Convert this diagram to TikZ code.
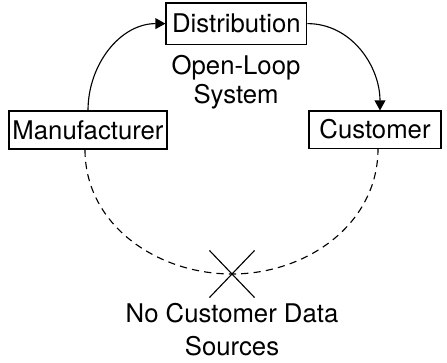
\documentclass[tikz,border=0pt]{standalone}
\usepackage{fontspec}
\setmainfont{TeX Gyre Heros}
\usepackage{tikz}
\usetikzlibrary{shapes, shapes.misc, arrows.meta, positioning, calc}

\begin{document}
\begin{tikzpicture}[
  sbox/.style={draw, line width=0.8pt, inner sep=0pt, minimum height=0.95cm, font=\fontsize{18.3}{19.2}\selectfont},
  flow/.style={line width=0.8pt, -{Triangle[length=0.25cm, width=0.27cm]}},
  gap/.style={line width=0.8pt, dash pattern=on 0.18cm off 0.13cm},
  lbl/.style={align=center, inner sep=0pt, font=\fontsize{18.3}{20.5}\selectfont}
]
  \useasboundingbox (0,0) rectangle (11.175, 9.05);
  \node[sbox, minimum width=3.52cm, minimum height=1.03cm] (dist) at (5.91, 8.46) {Distribution};
  \node[sbox, minimum width=3.95cm] (manu) at (2.2, 5.8) {Manufacturer};
  \node[sbox, minimum width=3.3cm, minimum height=0.93cm] (cust) at (9.375, 5.81) {Customer};
  \node[lbl] (open) at (5.9, 7.0) {Open-Loop\\System};
  \node[cross out, draw, line width=0.8pt, inner sep=0pt, minimum width=1.1cm, minimum height=1.15cm] (nx) at (5.8, 2.2) {};
  \node[lbl] (nodata) at (5.8, 0.81) {No Customer Data\\[2.3pt]Sources};
  % product flow
  \draw[flow] (manu.north) to[out=90, in=180] (dist.west);
  \draw[flow] (dist.east) to[out=0, in=90] ([xshift=0.125cm]cust.north);
  % missing feedback
  \draw[gap] ([xshift=-0.075cm]manu.south) to[out=-90, in=180] (nx.center)
    to[out=0, in=-90] ([xshift=0.075cm]cust.south);
\end{tikzpicture}
\end{document}
